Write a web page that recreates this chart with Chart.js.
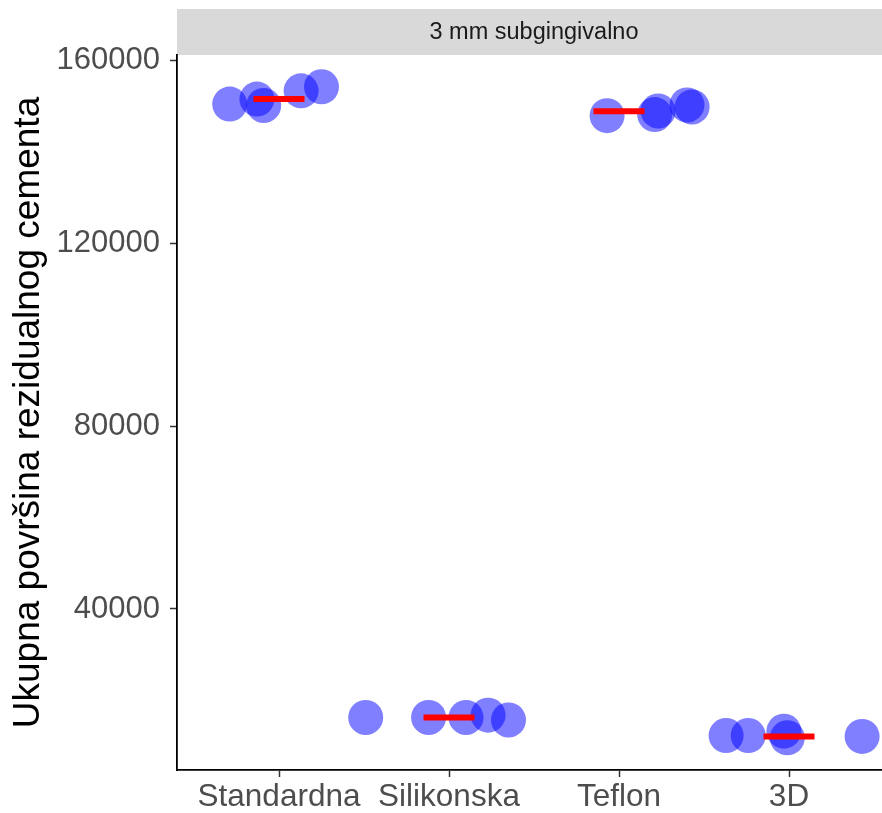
<!DOCTYPE html>
<html lang="hr">
<head>
  <meta charset="UTF-8">
  <title>Ukupna površina rezidualnog cementa</title>
  <script src="https://cdn.jsdelivr.net/npm/chart.js"></script>
  <style>
    body {
      margin: 0;
      padding: 0;
      background: white;
      overflow: hidden;
    }
    canvas {
      display: block;
    }
  </style>
</head>
<body>
  <canvas id="grafik" width="892" height="813"></canvas>

  <script>
    const kategorije = ['Standardna', 'Silikonska', 'Teflon', '3D'];
    const naslovPanela = '3 mm subgingivalno';
    const yTicks = [40000, 80000, 120000, 160000];

    // izmjerene vrijednosti po skupini (5 uzoraka) i njihov horizontalni jitter
    const standardna = [150500, 151600, 150200, 153400, 154300];
    const standardnaJitter = [-0.29, -0.13, -0.09, 0.13, 0.25];
    const silikonska = [16250, 16250, 16250, 16750, 15700];
    const silikonskaJitter = [-0.49, -0.12, 0.10, 0.23, 0.35];
    const teflon = [147970, 148200, 149000, 150310, 149870];
    const teflonJitter = [-0.07, 0.21, 0.23, 0.40, 0.43];
    const treD = [12300, 12300, 13250, 11800, 12100];
    const treDJitter = [-0.37, -0.24, -0.03, -0.01, 0.43];

    // medijani (crvene linije)
    const medijani = [151600, 16250, 148950, 12100];

    const skupine = [standardna, silikonska, teflon, treD];
    const jitteri = [standardnaJitter, silikonskaJitter, teflonJitter, treDJitter];

    const tocke = [];
    skupine.forEach((vrijednosti, i) => {
      vrijednosti.forEach((v, j) => tocke.push({ x: i + 1 + jitteri[i][j], y: v }));
    });

    const medijanSetovi = medijani.map((m, i) => ({
      type: 'line',
      data: [{ x: i + 1 - 0.15, y: m }, { x: i + 1 + 0.15, y: m }],
      borderColor: '#ff0000',
      borderWidth: 6,
      borderCapStyle: 'butt',
      pointRadius: 0,
      order: 0
    }));

    const font = '"Liberation Sans", Arial, sans-serif';

    // siva traka s nazivom panela iznad grafa
    const traka = {
      id: 'traka',
      beforeDraw(chart) {
        const { ctx, chartArea } = chart;
        ctx.save();
        ctx.fillStyle = '#d9d9d9';
        ctx.fillRect(chartArea.left, 9, chartArea.right - chartArea.left, chartArea.top - 9);
        ctx.fillStyle = '#1a1a1a';
        ctx.font = '23.5px ' + font;
        ctx.textAlign = 'center';
        ctx.textBaseline = 'middle';
        ctx.fillText(naslovPanela, (chartArea.left + chartArea.right) / 2, (9 + chartArea.top) / 2 + 1);
        ctx.restore();
      }
    };

    new Chart(document.getElementById('grafik').getContext('2d'), {
      type: 'scatter',
      data: {
        datasets: [
          {
            data: tocke,
            backgroundColor: 'rgba(0,0,255,0.5)',
            borderWidth: 0,
            pointRadius: 17.5,
            pointHoverRadius: 17.5,
            order: 1
          },
          ...medijanSetovi
        ]
      },
      options: {
        responsive: false,
        animation: false,
        layout: { autoPadding: false, padding: { top: 55, left: 0, right: 1, bottom: 0 } },
        plugins: {
          legend: { display: false },
          tooltip: { enabled: false }
        },
        scales: {
          x: {
            type: 'linear',
            min: 0.4,
            max: 4.6,
            afterBuildTicks: s => { s.ticks = [1, 2, 3, 4].map(v => ({ value: v })); },
            afterFit: s => { s.height = 43; },
            ticks: {
              callback: v => kategorije[v - 1],
              color: '#4d4d4d',
              font: { family: font, size: 31.5 },
              padding: 1,
              maxRotation: 0,
              autoSkip: false
            },
            grid: {
              drawOnChartArea: false,
              drawTicks: true,
              tickLength: 7,
              tickColor: '#333333',
              tickWidth: 1.5
            },
            border: { display: true, color: '#000000', width: 1.8 }
          },
          y: {
            min: 4750,
            max: 161250,
            afterBuildTicks: s => { s.ticks = yTicks.map(v => ({ value: v })); },
            afterFit: s => { s.width = 177; },
            ticks: {
              callback: v => String(v),
              color: '#4d4d4d',
              font: { family: font, size: 31 },
              padding: 10
            },
            grid: {
              drawOnChartArea: false,
              drawTicks: true,
              tickLength: 7,
              tickColor: '#333333',
              tickWidth: 1.5
            },
            border: { display: true, color: '#000000', width: 1.8 },
            title: {
              display: true,
              text: 'Ukupna površina rezidualnog cementa',
              color: '#000000',
              font: { family: font, size: 37 },
              padding: { top: 7, bottom: 0 }
            }
          }
        }
      },
      plugins: [traka]
    });
  </script>
</body>
</html>
